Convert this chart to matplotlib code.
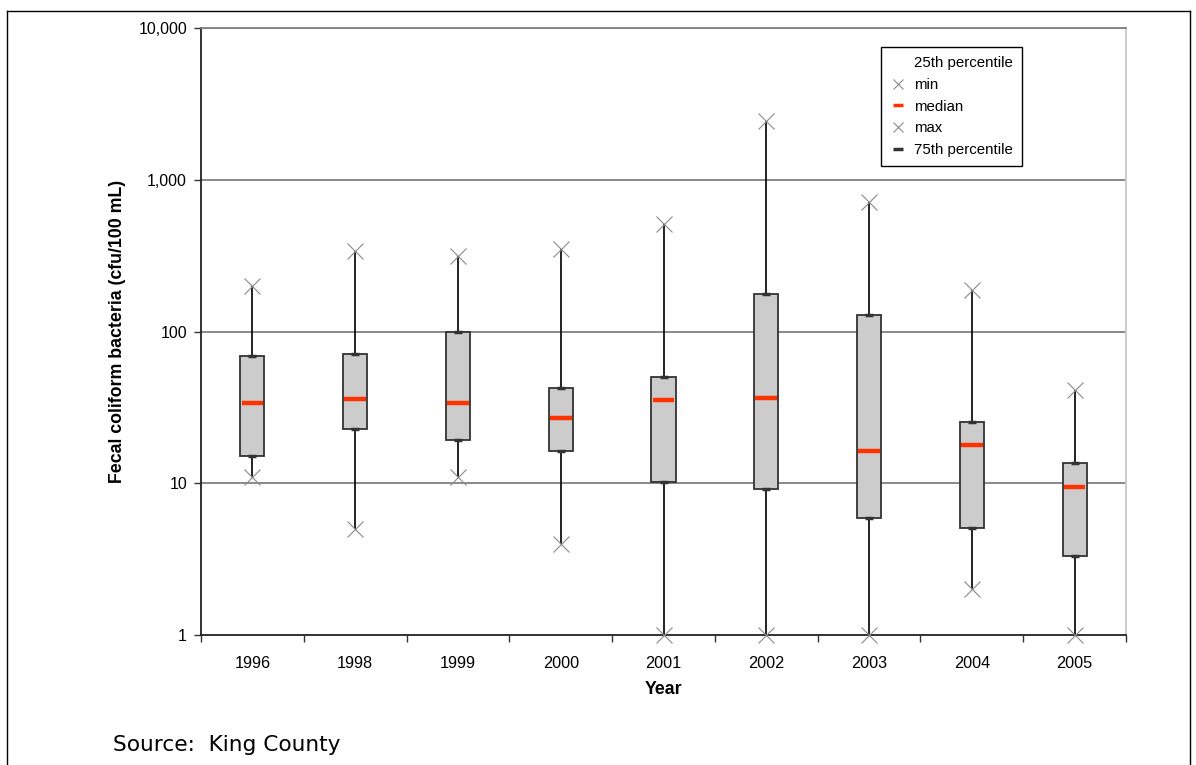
import matplotlib.pyplot as plt
from matplotlib.lines import Line2D
from matplotlib.ticker import FixedLocator, FuncFormatter

years = ["1996", "1998", "1999", "2000", "2001", "2002", "2003", "2004", "2005"]
mins = [11, 5, 11, 4, 1, 1, 1, 2, 1]
q1 = [15.1, 22.8, 19.3, 16.3, 10.2, 9.2, 5.9, 5.05, 3.3]
medians = [33.8, 35.9, 34, 26.9, 35.2, 36.3, 16.2, 17.9, 9.5]
q3 = [69, 71, 100, 42.4, 50, 177, 129, 25.5, 13.7]
maxs = [200, 339, 314, 350, 512, 2455, 709, 188, 41]

W, H = 1196, 765
GRID = "#808080"
BOX = "#cccccc"
RED = "#ff3300"

plt.rcParams.update({"font.family": ["Liberation Sans", "DejaVu Sans"], "font.size": 11.5})

fig = plt.figure(figsize=(W / 100, H / 100), dpi=100)
ax = fig.add_axes([201 / W, (H - 635) / H, 925 / W, 607 / H])

x = list(range(len(years)))

ax.set_yscale("log")
ax.set_ylim(1, 10000)
ax.set_xlim(-0.5, len(years) - 0.5)

# gridlines
for v in [10, 100, 1000, 10000]:
    ax.axhline(v, color=GRID, lw=1.3, zorder=1)

# whiskers min..max
ax.vlines(x, mins, maxs, color="#111111", lw=1.3, zorder=2)

# boxes 25th..75th
heights = [b - a for a, b in zip(q1, q3)]
ax.bar(x, heights, bottom=q1, width=0.235, color=BOX, edgecolor="#333333", linewidth=1.3, zorder=3)

# percentile dashes
ax.plot(x, q3, linestyle="none", marker="_", markersize=6, markeredgewidth=2.5, color="#333333", zorder=4)
ax.plot(x, q1, linestyle="none", marker="_", markersize=6, markeredgewidth=2.5, color="#333333", zorder=4)

# medians
ax.hlines(medians, [i - 0.105 for i in x], [i + 0.105 for i in x], color=RED, lw=3.2, zorder=5)

# min / max markers
ax.plot(x, mins, linestyle="none", marker="x", markersize=11, markeredgewidth=0.8, color="#8a8a8a", zorder=6,
        clip_on=False)
ax.plot(x, maxs, linestyle="none", marker="x", markersize=11, markeredgewidth=0.8, color="#8a8a8a", zorder=6,
        clip_on=False)

# axes styling
ax.set_xticks(x)
ax.set_xticklabels(years)
ax.xaxis.set_minor_locator(FixedLocator([i - 0.5 for i in range(len(years) + 1)]))
ax.tick_params(axis="x", which="major", length=0, pad=15, labelsize=11.7)
ax.tick_params(axis="x", which="minor", length=5, width=1, color="#333333", direction="out")
ax.yaxis.set_major_locator(FixedLocator([1, 10, 100, 1000, 10000]))
ax.yaxis.set_minor_locator(FixedLocator([]))
ax.yaxis.set_major_formatter(FuncFormatter(lambda v, p: f"{v:,.0f}"))
ax.tick_params(axis="y", which="major", length=5, width=1, color="#333333", pad=5, labelsize=11.5)

for s in ["left", "bottom"]:
    ax.spines[s].set_color("#222222")
    ax.spines[s].set_linewidth(1.3)
ax.spines["top"].set_color(GRID)
ax.spines["top"].set_linewidth(1.3)
ax.spines["right"].set_color("#c8c8c8")
ax.spines["right"].set_linewidth(1.3)

ax.set_xlabel("Year", fontweight="bold", fontsize=12.8, labelpad=7)
ax.set_ylabel("Fecal coliform bacteria (cfu/100 mL)", fontweight="bold", fontsize=12.8, labelpad=9)

# legend
handles = [
    Line2D([], [], linestyle="none", marker=None),
    Line2D([], [], linestyle="none", marker="x", markersize=7, markeredgewidth=0.8, color="#8a8a8a"),
    Line2D([], [], linestyle="none", marker="_", markersize=7, markeredgewidth=2.5, color=RED),
    Line2D([], [], linestyle="none", marker="x", markersize=7, markeredgewidth=0.8, color="#8a8a8a"),
    Line2D([], [], linestyle="none", marker="_", markersize=7, markeredgewidth=2.5, color="#333333"),
]
labels = ["25th percentile", "min", "median", "max", "75th percentile"]
leg = ax.legend(handles, labels, loc="upper left", bbox_to_anchor=((881 - 201) / 925, (635 - 47) / 607),
                frameon=True, fancybox=False, framealpha=1, edgecolor="#000000", fontsize=10.8,
                handlelength=1.1, handletextpad=0.5, labelspacing=0.52, borderpad=0.6, borderaxespad=0)
leg.get_frame().set_linewidth(1.0)
leg.set_zorder(10)

# outer frame
fig.add_artist(Line2D([7 / W, 1190 / W], [1 - 11 / H, 1 - 11 / H], color="#000000", lw=1.0))
fig.add_artist(Line2D([7 / W, 7 / W], [1 - 11 / H, 0], color="#000000", lw=1.0))
fig.add_artist(Line2D([1190 / W, 1190 / W], [1 - 11 / H, 0], color="#000000", lw=1.0))

fig.text(113 / W, 1 - 745 / H, "Source:  King County", fontsize=15.6, family="DejaVu Sans", va="center", ha="left")

fig.savefig("out.png", dpi=100)
